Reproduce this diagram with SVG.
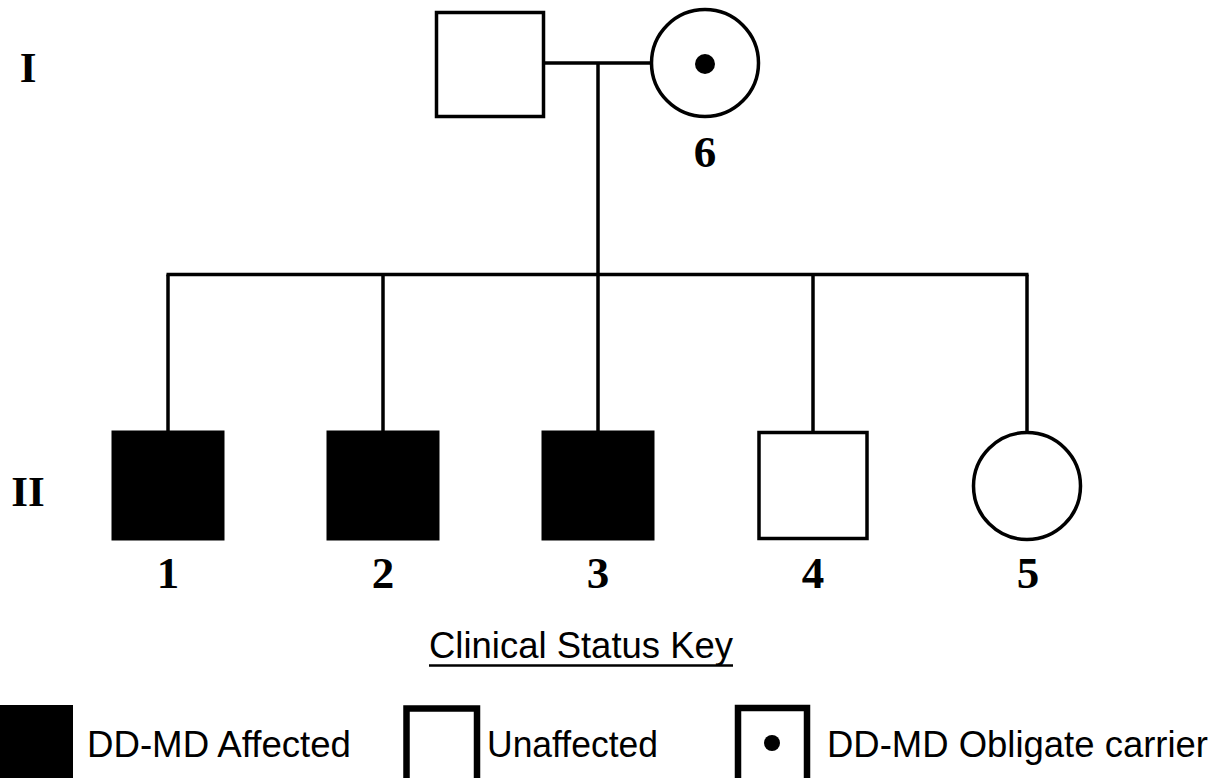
<svg xmlns="http://www.w3.org/2000/svg" width="1230" height="778" viewBox="0 0 1230 778">
<style>
.sym{fill:#fff;stroke:#000;stroke-width:3.5}
.aff{fill:#000;stroke:#000;stroke-width:3}
.ln{fill:none;stroke:#000;stroke-width:3.5}
.num{font-family:"Liberation Serif","DejaVu Serif",serif;font-weight:bold;font-size:45px;fill:#000;text-anchor:middle}
.gen{font-family:"Liberation Serif","DejaVu Serif",serif;font-weight:bold;font-size:43px;fill:#000;text-anchor:middle}
.key{font-family:"Liberation Sans",Arial,sans-serif;font-size:36px;fill:#000}
.kbox{fill:#fff;stroke:#000;stroke-width:6.5}
</style>
<rect width="1230" height="778" fill="#fff"/>
<g id="connectors">
<line class="ln" x1="545" y1="63" x2="651" y2="63"/>
<line class="ln" x1="598" y1="63" x2="598" y2="274.5"/>
<line class="ln" x1="166.5" y1="274.5" x2="1028.5" y2="274.5"/>
<line class="ln" x1="168" y1="274.5" x2="168" y2="431"/>
<line class="ln" x1="383" y1="274.5" x2="383" y2="431"/>
<line class="ln" x1="598" y1="274.5" x2="598" y2="431"/>
<line class="ln" x1="813" y1="274.5" x2="813" y2="431"/>
<line class="ln" x1="1027" y1="274.5" x2="1027" y2="432"/>
</g>
<g id="gen-I"><text class="gen" x="28" y="82">I</text></g>
<g id="gen-II"><text class="gen" x="28" y="506">II</text></g>
<g id="I-1"><rect class="sym" x="436.5" y="12.5" width="107" height="104"/></g>
<g id="I-6">
<circle class="sym" cx="705" cy="63" r="53.5"/>
<circle cx="705" cy="64" r="10" fill="#000"/>
<text class="num" x="705" y="167">6</text>
</g>
<g id="II-1"><rect class="aff" x="113" y="432" width="110" height="107"/><text class="num" x="168" y="588">1</text></g>
<g id="II-2"><rect class="aff" x="328" y="432" width="110" height="107"/><text class="num" x="383" y="588">2</text></g>
<g id="II-3"><rect class="aff" x="543" y="432" width="110" height="107"/><text class="num" x="598" y="588">3</text></g>
<g id="II-4"><rect class="sym" x="759" y="432.5" width="108" height="106"/><text class="num" x="813" y="588">4</text></g>
<g id="II-5"><circle class="sym" cx="1027" cy="486" r="53.5"/><text class="num" x="1028" y="588">5</text></g>
<g id="key">
<text class="key" x="429" y="658" textLength="304" lengthAdjust="spacingAndGlyphs">Clinical Status Key</text>
<line x1="429" y1="665.5" x2="733" y2="665.5" stroke="#000" stroke-width="2.5"/>
<rect x="-5" y="705" width="78" height="80" fill="#000"/>
<text class="key" x="87" y="757" textLength="264" lengthAdjust="spacingAndGlyphs">DD-MD Affected</text>
<rect class="kbox" x="406.5" y="708.5" width="70.5" height="80"/>
<text class="key" x="487" y="757" textLength="171" lengthAdjust="spacingAndGlyphs">Unaffected</text>
<rect class="kbox" x="738" y="708" width="69" height="80"/>
<circle cx="772" cy="743" r="8" fill="#000"/>
<text class="key" x="827" y="757" textLength="381" lengthAdjust="spacingAndGlyphs">DD-MD Obligate carrier</text>
</g>
</svg>
